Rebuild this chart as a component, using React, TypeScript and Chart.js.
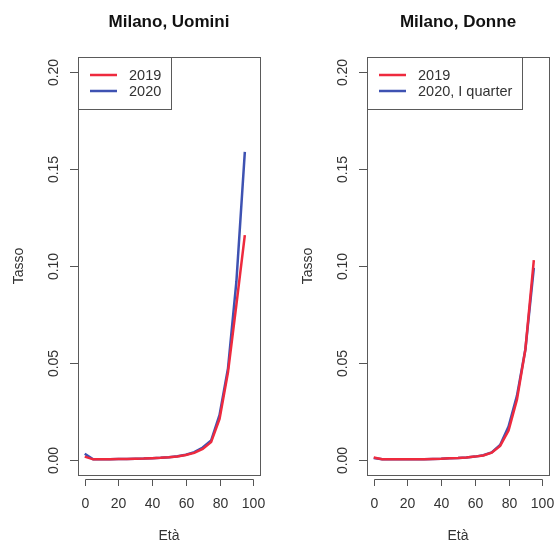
import React, { useEffect, useRef } from "react";
import { Chart, registerables } from "chart.js";

Chart.register(...registerables);

// ---- data ----
const ages = [0, 5, 10, 15, 20, 25, 30, 35, 40, 45, 50, 55, 60, 65, 70, 75, 80, 85, 90, 95];
const menRate2019 = [0.0015, 0.0001, 0.0001, 0.0002, 0.0003, 0.0003, 0.0004, 0.0005, 0.0007, 0.0009, 0.0012, 0.0016, 0.0023, 0.0034, 0.0055, 0.009, 0.021, 0.045, 0.08, 0.116];
const menRate2020 = [0.003, 0.0001, 0.0001, 0.0002, 0.0003, 0.0003, 0.0004, 0.0005, 0.0007, 0.0009, 0.0012, 0.0017, 0.0025, 0.0038, 0.0062, 0.0098, 0.023, 0.047, 0.092, 0.159];
const womenRate2019 = [0.001, 0.0001, 0.0001, 0.0001, 0.0001, 0.0002, 0.0002, 0.0003, 0.0004, 0.0006, 0.0008, 0.0011, 0.0015, 0.0021, 0.0035, 0.007, 0.015, 0.031, 0.057, 0.103];
const womenRate2020 = [0.0008, 0.0001, 0.0001, 0.0001, 0.0001, 0.0002, 0.0002, 0.0003, 0.0004, 0.0006, 0.0008, 0.0011, 0.0015, 0.0022, 0.0037, 0.0075, 0.017, 0.033, 0.057, 0.099];

const xTicks = [0, 20, 40, 60, 80, 100];
const yTicks = [0, 0.05, 0.1, 0.15, 0.2];
const yTickLabels = ["0.00", "0.05", "0.10", "0.15", "0.20"];
const titles = ["Milano, Uomini", "Milano, Donne"];
const menLegend = ["2019", "2020"];
const womenLegend = ["2019", "2020, I quarter"];
const xTitle = "Età";
const yTitle = "Tasso";

const RED = "rgb(238,42,62)";
const BLUE = "rgb(62,82,178)";
const FONT = '"Liberation Sans", Arial, Helvetica, sans-serif';

const decor = {
  id: "decor",
  afterDraw(chart: any, _args: any, opts: any) {
    const { ctx, chartArea: a, scales } = chart;
    const xs = scales.x;
    const ys = scales.y;
    ctx.save();
    // box
    ctx.strokeStyle = "#5a5a5a";
    ctx.lineWidth = 1;
    ctx.strokeRect(a.left + 0.5, a.top + 0.5, a.right - a.left, a.bottom - a.top);

    // x axis
    ctx.strokeStyle = "#555";
    const axY = a.bottom + 4.5;
    ctx.beginPath();
    ctx.moveTo(Math.round(xs.getPixelForValue(xTicks[0])) + 0.5, axY);
    ctx.lineTo(Math.round(xs.getPixelForValue(xTicks[xTicks.length - 1])) + 0.5, axY);
    ctx.stroke();
    ctx.fillStyle = "#333";
    ctx.font = `14px ${FONT}`;
    ctx.textAlign = "center";
    ctx.textBaseline = "alphabetic";
    for (const v of xTicks) {
      const px = Math.round(xs.getPixelForValue(v)) + 0.5;
      ctx.beginPath();
      ctx.moveTo(px, axY);
      ctx.lineTo(px, a.bottom + 11);
      ctx.stroke();
      ctx.fillText(String(v), px, a.bottom + 33);
    }

    // y axis
    yTicks.forEach((v, i) => {
      const py = Math.round(ys.getPixelForValue(v)) + 0.5;
      ctx.beginPath();
      ctx.moveTo(a.left - 8, py);
      ctx.lineTo(a.left, py);
      ctx.stroke();
      ctx.save();
      ctx.translate(a.left - 20, py);
      ctx.rotate(-Math.PI / 2);
      ctx.textAlign = "center";
      ctx.fillText(yTickLabels[i], 0, 0);
      ctx.restore();
    });

    // axis titles
    const cx = (a.left + a.right) / 2;
    const cy = (a.top + a.bottom) / 2;
    ctx.fillText(xTitle, cx, 540);
    ctx.save();
    ctx.translate(a.left - 55, cy);
    ctx.rotate(-Math.PI / 2);
    ctx.fillText(yTitle, 0, 0);
    ctx.restore();

    // main title
    ctx.fillStyle = "#111";
    ctx.font = `bold 17px ${FONT}`;
    ctx.fillText(opts.title, cx, 27);

    // legend
    const lx = a.left;
    const ly = a.top;
    ctx.fillStyle = "#fff";
    ctx.fillRect(lx + 0.5, ly + 0.5, opts.legendWidth, 52);
    ctx.strokeStyle = "#5a5a5a";
    ctx.strokeRect(lx + 0.5, ly + 0.5, opts.legendWidth, 52);
    const colors = [RED, BLUE];
    ctx.font = `14.5px ${FONT}`;
    ctx.textAlign = "left";
    ctx.textBaseline = "middle";
    opts.labels.forEach((lab: string, i: number) => {
      const yy = ly + 18 + i * 16;
      ctx.strokeStyle = colors[i];
      ctx.lineWidth = 2.5;
      ctx.beginPath();
      ctx.moveTo(lx + 12, yy);
      ctx.lineTo(lx + 39, yy);
      ctx.stroke();
      ctx.fillStyle = "#333";
      ctx.fillText(lab, lx + 51, yy + 1);
    });
    ctx.restore();
  },
};

type PanelProps = {
  title: string;
  s2019: number[];
  s2020: number[];
  labels: string[];
  padLeft: number;
  legendWidth: number;
};

function Panel({ title, s2019, s2020, labels, padLeft, legendWidth }: PanelProps) {
  const ref = useRef<HTMLCanvasElement | null>(null);
  useEffect(() => {
    if (!ref.current) return;
    const chart = new Chart(ref.current, {
      type: "line",
      data: {
        datasets: [
          {
            label: labels[0],
            data: ages.map((a, i) => ({ x: a, y: s2019[i] })),
            borderColor: RED,
            borderWidth: 2.5,
            pointRadius: 0,
            tension: 0,
          },
          {
            label: labels[1],
            data: ages.map((a, i) => ({ x: a, y: s2020[i] })),
            borderColor: BLUE,
            borderWidth: 2.5,
            pointRadius: 0,
            tension: 0,
          },
        ],
      },
      options: {
        responsive: false,
        animation: false,
        devicePixelRatio: 1,
        layout: { padding: { left: padLeft, right: 278 - padLeft - 182, top: 57, bottom: 67 } },
        scales: {
          x: { type: "linear", min: -4, max: 104, display: false },
          y: { type: "linear", min: -0.008, max: 0.208, display: false },
        },
        plugins: {
          legend: { display: false },
          tooltip: { enabled: false },
          decor: { title, labels, legendWidth },
        } as any,
      },
      plugins: [decor],
    });
    return () => chart.destroy();
  }, []);
  return <canvas ref={ref} width={278} height={542} style={{ display: "block" }} />;
}

export default function App() {
  return (
    <div
      style={{
        position: "fixed",
        left: 0,
        top: 0,
        width: 556,
        height: 542,
        background: "#fff",
        display: "flex",
      }}
    >
      <Panel title={titles[0]} s2019={menRate2019} s2020={menRate2020} labels={menLegend} padLeft={78} legendWidth={93} />
      <Panel title={titles[1]} s2019={womenRate2019} s2020={womenRate2020} labels={womenLegend} padLeft={89} legendWidth={155} />
    </div>
  );
}
